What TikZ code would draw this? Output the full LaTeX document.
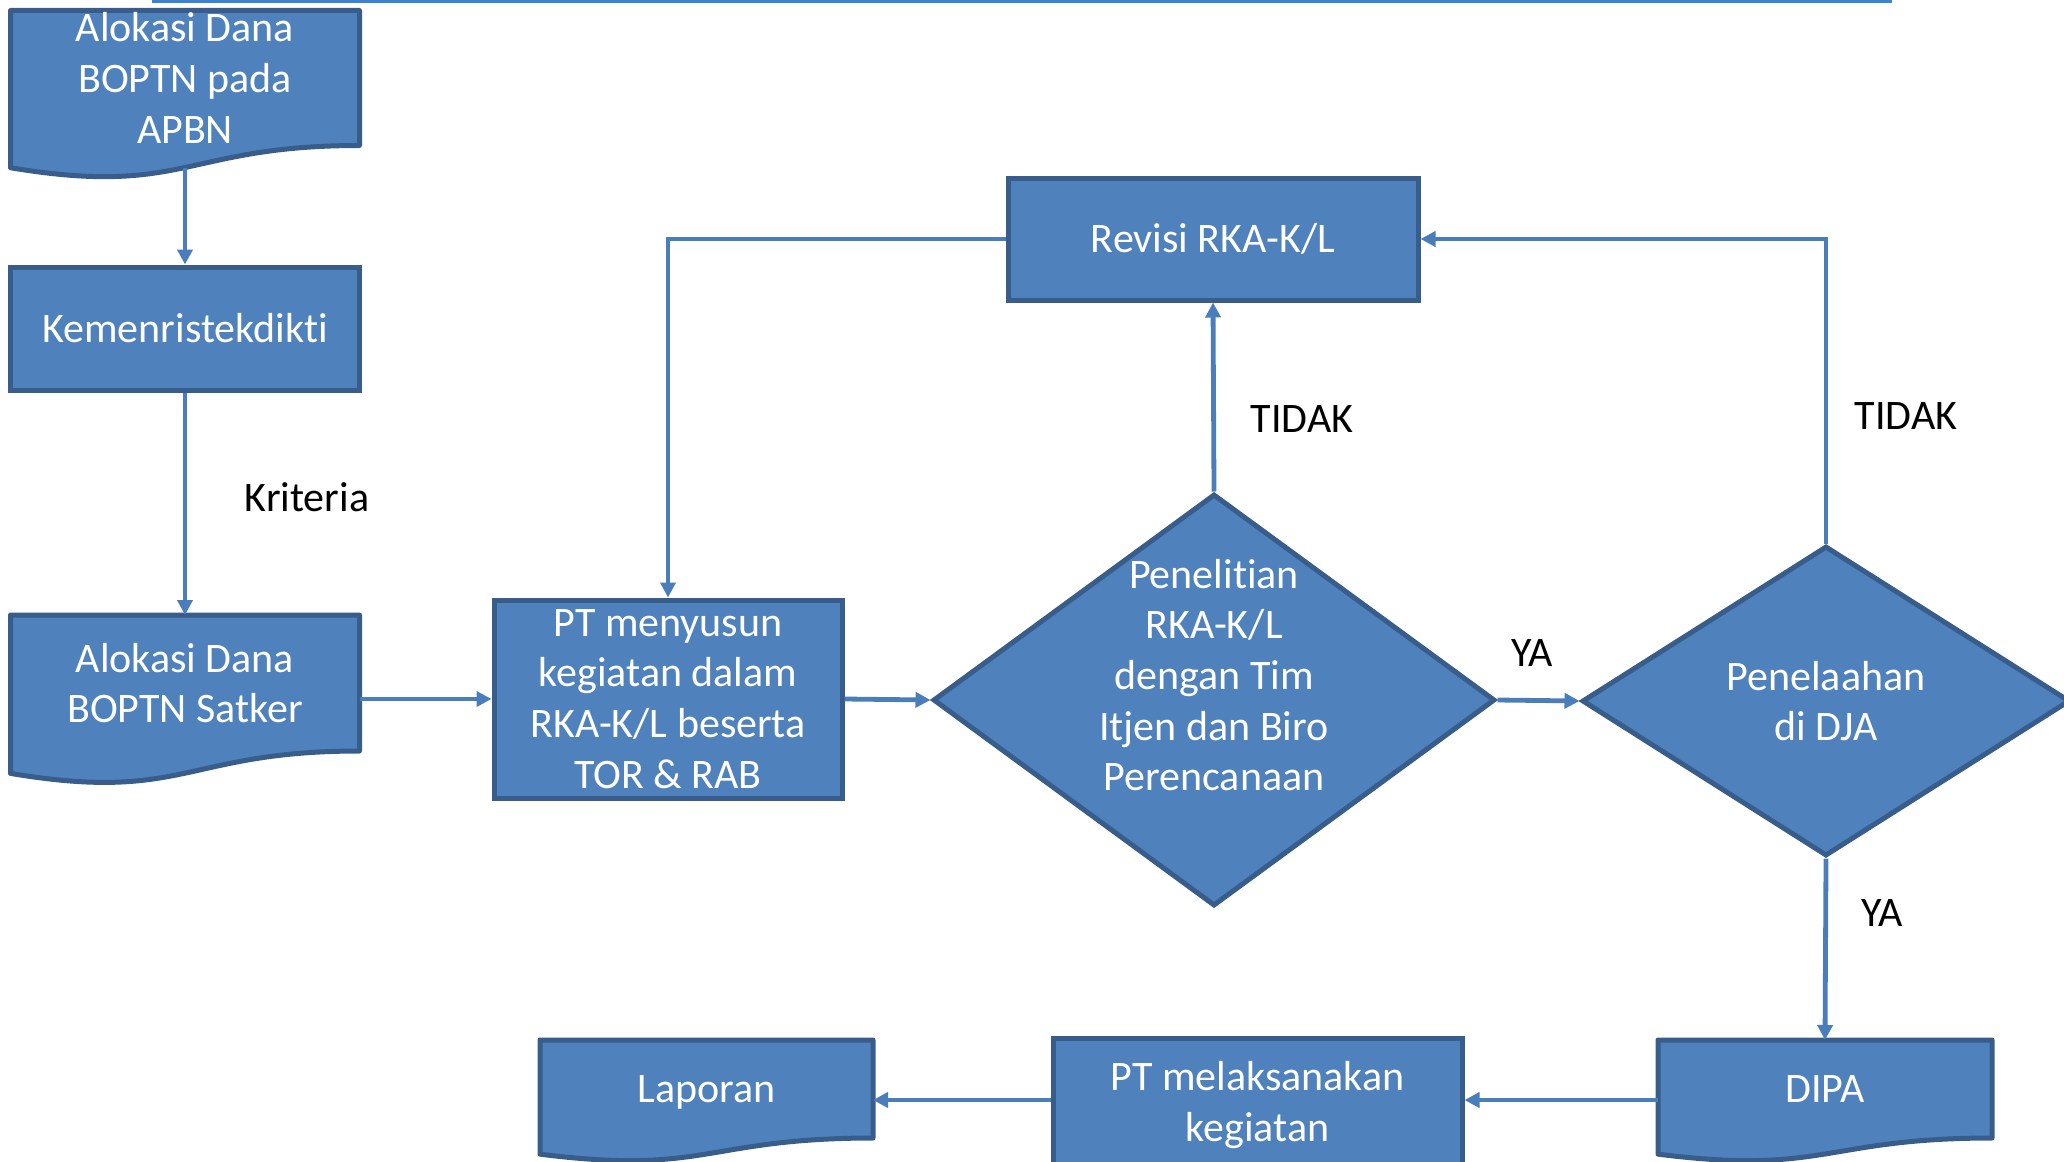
\documentclass[tikz,border=0pt]{standalone}
\usepackage{fontspec}
\setmainfont{Carlito}[Ligatures={TeX,NoCommon}]
\usetikzlibrary{shapes.geometric,arrows.meta,calc}
\pgfdeclarelayer{bg}
\pgfsetlayers{bg,main}
\definecolor{boxfill}{HTML}{4F81BD}
\definecolor{boxline}{HTML}{385D8A}
\definecolor{conn}{HTML}{4A7EBB}
\definecolor{topline}{HTML}{3C82D2}
\newcommand\docshapefor[1]{%
  \begin{pgfonlayer}{bg}
  \path[docshape] (#1.north west) -- (#1.north east) -- (#1.south east)
    .. controls (#1.south) and ($(#1.south)!-0.3803!(#1.north)$) ..
    ($(#1.south west)!-0.1646!(#1.north west)$) -- cycle;
  \end{pgfonlayer}
  \coordinate (#1-w) at ($(#1.south)!-0.1633!(#1.north)$);}
\begin{document}
\begin{tikzpicture}[x=0.5pt,y=-0.5pt,
  every node/.style={font=\fontsize{21}{25.35}\selectfont},
  proc/.style={rectangle, fill=boxfill, draw=boxline, line width=2.5pt, text=white, align=center, inner sep=0pt},
  docnode/.style={rectangle, draw=none, fill=none, text=white, align=center, inner sep=0pt, outer sep=0pt},
  docshape/.style={fill=boxfill, draw=boxline, line width=2.5pt, line join=round},
  decision/.style={diamond, fill=boxfill, draw=boxline, line width=2.5pt, inner sep=0pt},
  dectext/.style={text=white, align=center},
  arr/.style={draw=conn, line width=2.4pt, -{Triangle[length=7.5pt,width=7.5pt]}},
  lbl/.style={text=black}]
\useasboundingbox (0,0) rectangle (2064,1161);
\clip (0,0) rectangle (2064,1161);
\draw[topline, line width=2pt] (152,1.5) -- (1892,1.5);

% left column
\node[docnode, minimum width=174.5pt, minimum height=67.5pt] (b1) at (185,78) {Alokasi Dana\\BOPTN pada\\APBN};
\docshapefor{b1}
\node[proc, minimum width=174.5pt, minimum height=61.5pt] (b2) at (185,328.5) {Kemenristekdikti};
\node[docnode, minimum width=174.5pt, minimum height=68pt] (b3) at (185,683) {Alokasi Dana\\BOPTN Satker};
\docshapefor{b3}

% middle
\node[proc, minimum width=174pt, minimum height=99pt] (b4) at (668,699) {PT menyusun\\kegiatan dalam\\RKA-K/L beserta\\TOR \& RAB};
\node[decision, minimum width=281pt, minimum height=206pt] (d1) at (1214,700) {};
\node[dectext] (d1t) at (1214,675) {Penelitian\\RKA-K/L\\dengan Tim\\Itjen dan Biro\\Perencanaan};
\node[proc, minimum width=205pt, minimum height=61pt] (rev) at (1213,239) {Revisi RKA-K/L};
\node[decision, minimum width=244pt, minimum height=155pt] (d2) at (1826,701) {};
\node[dectext] (d2t) at (1826,701) {Penelaahan\\di DJA};

% bottom row
\node[docnode, minimum width=167pt, minimum height=49pt, text depth=0pt] (dipa) at (1825,1089) {DIPA};
\docshapefor{dipa}
\node[proc, minimum width=204.5pt, minimum height=67pt] (ptm) at (1257.5,1105) {PT melaksanakan\\kegiatan};
\node[docnode, minimum width=166.5pt, minimum height=49pt, text depth=0pt] (lap) at (706.5,1089) {Laporan};
\docshapefor{lap}

% labels
\node[lbl] (lk) at (307,497) {Kriteria};
\node[lbl] (lt1) at (1302,419) {TIDAK};
\node[lbl] (ly1) at (1532,653) {YA};
\node[lbl] (lt2) at (1906,416) {TIDAK};
\node[lbl] (ly2) at (1882,913) {YA};

% connectors
\draw[arr] (b1-w) -- (b2.north);
\draw[arr] (b2.south) -- (b3.north);
\draw[arr] (b3.east |- b4.west) -- (b4.west);
\draw[arr] (b4.east) -- (d1.west);
\draw[arr] (d1.north) -- (rev.south);
\draw[arr] (rev.west) -| (b4.north);
\draw[arr] (d1.east) -- (d2.west);
\draw[arr] (d2.north) |- (rev.east);
\draw[arr] (d2.south) -- (dipa.north);
\draw[arr] (dipa.west |- 0,1100) -- (ptm.east |- 0,1100);
\draw[arr] (ptm.west |- 0,1100) -- (lap.east |- 0,1100);
\end{tikzpicture}
\end{document}
